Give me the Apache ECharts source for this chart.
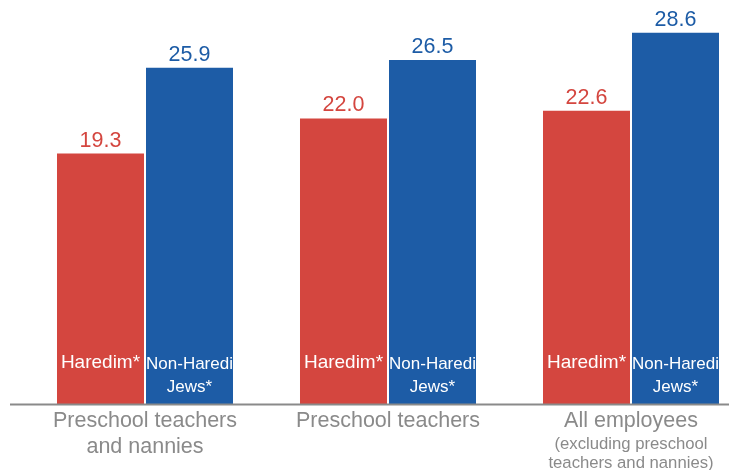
<!DOCTYPE html>
<html>
<head>
<meta charset="utf-8">
<script src="https://cdn.jsdelivr.net/npm/echarts@6/dist/echarts.min.js"></script>
<style>html,body{margin:0;padding:0;background:#fff}#c{width:729px;height:470px}</style>
</head>
<body>
<div id="c"></div>
<script>
var categories = ['Preschool teachers\nand nannies', 'Preschool teachers', 'All employees'];
var categorySubtitles = ['', '', '(excluding preschool\nteachers and nannies)'];
var haredim = [19.3, 22.0, 22.6];
var nonHaredi = [25.9, 26.5, 28.6];
var seriesNames = ['Haredim*', 'Non-Haredi\nJews*'];

var FONT = 'Liberation Sans, Arial, sans-serif';
var RED = '#D4463F';
var BLUE = '#1D5CA6';
var GRAY = '#8A8A8A';

var chart = echarts.init(document.getElementById('c'), null, {renderer: 'canvas'});

function topLabel(color) {
  return {show: true, position: 'top', distance: 2, color: color, fontSize: 21.5, fontFamily: FONT,
    formatter: function (p) { return p.value.toFixed(1); }};
}

var axisLineGraphic = {type: 'line', shape: {x1: 10, y1: 404.5, x2: 729, y2: 404.5},
  style: {stroke: GRAY, lineWidth: 2}, z: 10};

chart.setOption({
  animation: false,
  backgroundColor: '#fff',
  grid: {left: 23.5, right: -23.5, top: 14.5, bottom: 65.5, containLabel: false, outerBoundsMode: 'none'},
  xAxis: {
    type: 'category',
    data: categories,
    axisLine: {show: false},
    axisTick: {show: false},
    axisLabel: {
      margin: 4,
      interval: 0,
      formatter: function (v, i) {
        var s = '{m|' + v.split('\n').join('}\n{m|') + '}';
        if (categorySubtitles[i]) s += '\n{s|' + categorySubtitles[i].split('\n').join('}\n{s|') + '}';
        return s;
      },
      rich: {
        m: {fontSize: 21.5, lineHeight: 26, color: GRAY, fontFamily: FONT},
        s: {fontSize: 16.7, lineHeight: 19, color: GRAY, fontFamily: FONT}
      }
    }
  },
  yAxis: {type: 'value', min: 0, max: 30, show: false, splitLine: {show: false}},
  series: [
    {type: 'bar', name: seriesNames[0], data: haredim, barWidth: 87, barGap: '2.3%',
      itemStyle: {color: RED}, label: topLabel(RED)},
    {type: 'bar', name: seriesNames[1], data: nonHaredi, barWidth: 87, barGap: '2.3%',
      itemStyle: {color: BLUE}, label: topLabel(BLUE)}
  ],
  graphic: [axisLineGraphic]
});

// Series names written inside the bottom of each bar, positioned from the library's bar layout
var dataH = chart.getModel().getSeriesByIndex(0).getData();
var dataN = chart.getModel().getSeriesByIndex(1).getData();
var g = [axisLineGraphic];
for (var i = 0; i < haredim.length; i++) {
  var lh = dataH.getItemLayout(i), ln = dataN.getItemLayout(i);
  g.push({type: 'text', z: 20, style: {text: seriesNames[0], x: lh.x + lh.width / 2, y: lh.y - 30,
    align: 'center', verticalAlign: 'bottom', fill: '#fff', fontSize: 19, fontFamily: FONT, lineHeight: 23}});
  g.push({type: 'text', z: 20, style: {text: seriesNames[1], x: ln.x + ln.width / 2, y: ln.y - 6,
    align: 'center', verticalAlign: 'bottom', fill: '#fff', fontSize: 17, fontFamily: FONT, lineHeight: 23}});
}
chart.setOption({graphic: g}, {replaceMerge: ['graphic']});
</script>
</body>
</html>
